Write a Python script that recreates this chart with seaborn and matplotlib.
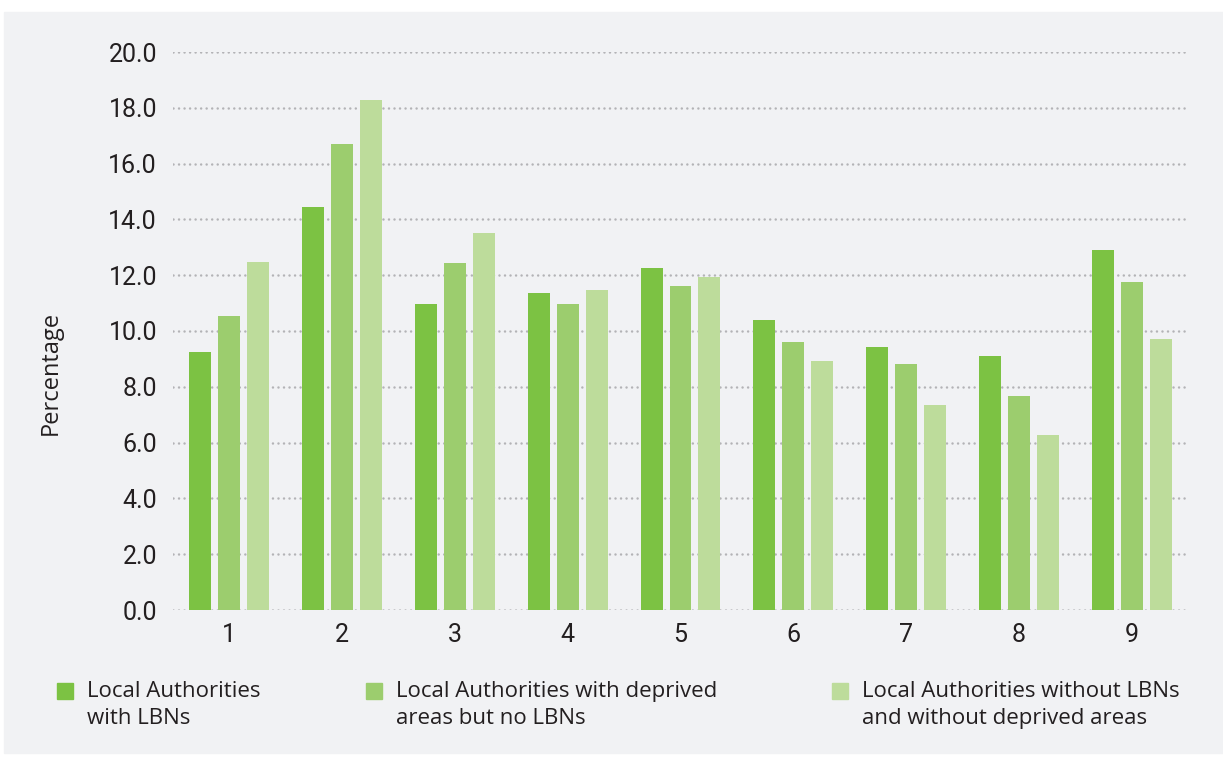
"""Grouped bar chart: percentage by decile for three groups of local authorities."""

import matplotlib
matplotlib.use("Agg")
import matplotlib.pyplot as plt
from matplotlib.patches import Rectangle
import matplotlib.ticker as mticker
import seaborn as sns
import pandas as pd

sns.set_theme(style="white")
plt.rcParams["font.family"] = ["Roboto", "DejaVu Sans"]

# data
deciles = ["1", "2", "3", "4", "5", "6", "7", "8", "9"]
groups = [
    "Local Authorities\nwith LBNs",
    "Local Authorities with deprived\nareas but no LBNs",
    "Local Authorities without LBNs\nand without deprived areas",
]
with_lbns = [9.25, 14.44, 10.97, 11.36, 12.26, 10.39, 9.43, 9.10, 12.90]
deprived_no_lbns = [10.54, 16.70, 12.44, 10.97, 11.61, 9.60, 8.82, 7.67, 11.76]
without_both = [12.47, 18.28, 13.51, 11.47, 11.94, 8.92, 7.35, 6.27, 9.71]
y_ticks = [0, 2, 4, 6, 8, 10, 12, 14, 16, 18, 20]

colors = ["#7cc243", "#9ccd6e", "#bddc9b"]
TEXT = "#231f20"
PANEL = "#f1f2f4"
LABEL_FONT = ["Open Sans", "DejaVu Sans"]

df = pd.DataFrame({
    "decile": deciles * 3,
    "group": [g for g in groups for _ in deciles],
    "value": with_lbns + deprived_no_lbns + without_both,
})

fig = plt.figure(figsize=(12.23, 7.57), dpi=100, facecolor="white")
fig.add_artist(Rectangle((4 / 1223, 4 / 757), 1, 741 / 757,
                         transform=fig.transFigure, color=PANEL, zorder=-10))
ax = fig.add_axes([173 / 1223, 1 - 610 / 757, 1015 / 1223, 558 / 757])
ax.set_facecolor("none")

sns.barplot(data=df, x="decile", y="value", hue="group", palette=colors,
            width=0.77, gap=0.24, saturation=1, linewidth=0, legend=False,
            ax=ax, zorder=3)

ax.set_ylim(0, 20)
ax.set_xlim(-0.5, 8.5)
ax.set_yticks(y_ticks)
ax.yaxis.set_major_formatter(mticker.FormatStrFormatter("%.1f"))
ax.yaxis.grid(True, color="#b3b3b6", linewidth=1.8,
              linestyle=(0, (0.01, 2.2)), dash_capstyle="round")
ax.set_axisbelow(True)
for s in ax.spines.values():
    s.set_visible(False)
ax.tick_params(axis="y", length=0, pad=11.5, labelsize=18, labelcolor=TEXT)
ax.tick_params(axis="x", length=0, pad=9, labelsize=18, labelcolor=TEXT)
ax.set_xlabel("")
ax.set_ylabel("Percentage", fontsize=17, color=TEXT, family=LABEL_FONT)
ax.yaxis.set_label_coords(-110 / 1015, 0.425)

# legend, square aligned with the first line of each label
legend_x = [57, 366, 832]
for x, c, g in zip(legend_x, colors, groups):
    fig.add_artist(Rectangle((x / 1223, 1 - 699 / 757), 16 / 1223, 16 / 757,
                             transform=fig.transFigure, color=c))
    fig.text((x + 30) / 1223, 1 - 681 / 757, g, ha="left", va="top",
             fontsize=16, color=TEXT, linespacing=1.38, family=LABEL_FONT)

fig.savefig("out.png", dpi=100, facecolor="white")
